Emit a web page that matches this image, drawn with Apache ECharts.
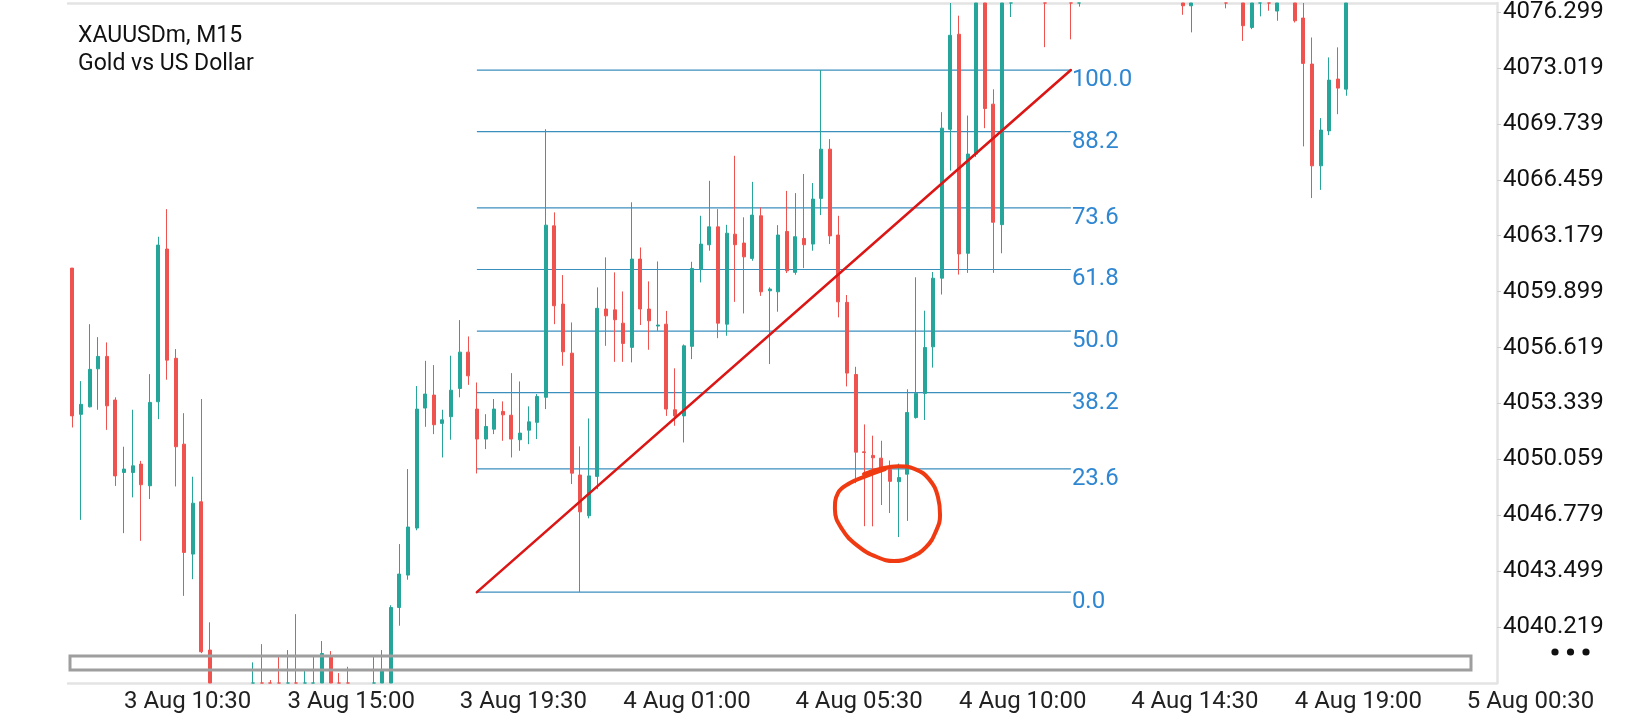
<!DOCTYPE html>
<html>
<head>
<meta charset="utf-8">
<title>XAUUSDm, M15</title>
<script src="https://cdn.jsdelivr.net/npm/echarts@6/dist/echarts.min.js"></script>
<style>
  html, body { margin: 0; padding: 0; background: #fff; }
  #chart { width: 1640px; height: 720px; }
</style>
</head>
<body>
<div id="chart"></div>
<script>
// M15 bars, oldest first. Bars outside the visible price range are rough guesses,
// they only show as wick stubs at the top / bottom edge.
const opens = [
  4061.28, 4052.70, 4053.14, 4055.37, 4056.10, 4053.54, 4049.29, 4049.29, 4049.78, 4048.51,
  4053.44, 4062.40, 4055.99, 4050.95, 4044.50, 4047.57, 4038.87, 4035.50, 4033.00, 4034.00,
  4032.50, 4035.00, 4036.00, 4034.50, 4033.00, 4032.00, 4035.00, 4033.50, 4035.50, 4035.00,
  4038.46, 4035.00, 4033.50, 4032.50, 4034.00, 4035.00, 4036.00, 4036.50, 4041.37, 4043.27,
  4046.03, 4053.07, 4053.83, 4052.17, 4052.56, 4054.22, 4056.35, 4053.01, 4051.25, 4051.83,
  4052.87, 4052.65, 4051.21, 4051.77, 4052.23, 4053.70, 4063.76, 4059.17, 4056.29, 4049.14,
  4046.75, 4049.06, 4058.88, 4058.83, 4058.05, 4056.63, 4061.81, 4058.88, 4057.88, 4057.99,
  4052.97, 4052.61, 4056.69, 4061.22, 4062.65, 4063.70, 4057.99, 4063.27, 4062.75, 4061.85,
  4064.35, 4059.95, 4059.89, 4063.43, 4061.03, 4063.02, 4062.69, 4065.37, 4068.26, 4063.22,
  4059.27, 4055.04, 4050.50, 4050.29, 4050.13, 4049.46, 4048.75, 4049.19, 4052.51, 4053.93,
  4056.66, 4060.69, 4069.42, 4075.00, 4062.15, 4067.97, 4078.50, 4070.90, 4063.83, 4078.00,
  4080.00, 4081.50, 4080.50, 4081.00, 4078.50, 4080.00, 4079.00, 4078.00, 4079.50, 4081.00,
  4082.50, 4081.50, 4083.00, 4082.00, 4083.50, 4082.50, 4081.00, 4080.00, 4079.00, 4077.50,
  4076.67, 4077.80, 4079.00, 4080.00, 4079.50, 4078.00, 4078.50, 4075.40, 4077.30, 4078.50,
  4076.36, 4078.00, 4078.80, 4075.95, 4073.25, 4067.28, 4069.33, 4072.37, 4071.78
];
const highs = [
  4061.28, 4054.65, 4057.99, 4057.23, 4056.92, 4053.70, 4050.80, 4052.97, 4049.97, 4055.06,
  4063.12, 4064.74, 4056.53, 4052.77, 4049.04, 4053.60, 4040.50, 4036.20, 4034.50, 4035.00,
  4036.50, 4038.15, 4039.22, 4037.11, 4038.50, 4038.87, 4040.98, 4037.65, 4038.50, 4039.40,
  4038.81, 4037.52, 4037.89, 4036.00, 4036.50, 4038.50, 4038.87, 4041.50, 4045.09, 4049.49,
  4054.36, 4055.84, 4055.59, 4052.97, 4056.14, 4058.23, 4057.27, 4054.57, 4052.71, 4053.60,
  4053.46, 4055.12, 4054.63, 4053.17, 4053.89, 4069.43, 4064.55, 4060.87, 4058.09, 4050.82,
  4052.46, 4060.15, 4061.91, 4061.03, 4059.91, 4065.14, 4062.49, 4060.50, 4061.67, 4058.77,
  4055.40, 4056.80, 4061.65, 4064.35, 4066.40, 4064.74, 4063.82, 4067.87, 4064.26, 4066.34,
  4064.84, 4060.15, 4063.80, 4065.81, 4065.68, 4066.80, 4066.27, 4072.90, 4068.85, 4064.35,
  4059.70, 4055.49, 4052.11, 4051.45, 4051.15, 4049.99, 4049.81, 4054.17, 4060.74, 4058.78,
  4061.05, 4070.43, 4077.00, 4076.09, 4070.23, 4079.20, 4079.50, 4071.77, 4079.00, 4081.00,
  4082.50, 4083.00, 4082.00, 4082.00, 4081.00, 4081.50, 4080.00, 4080.50, 4082.00, 4083.50,
  4083.50, 4084.00, 4084.00, 4084.50, 4084.50, 4083.00, 4082.00, 4081.00, 4080.00, 4078.50,
  4079.00, 4080.00, 4081.00, 4081.00, 4080.00, 4079.50, 4079.00, 4079.00, 4079.50, 4079.50,
  4079.00, 4079.50, 4079.50, 4078.00, 4074.81, 4070.08, 4073.64, 4074.23, 4078.00
];
const lows = [
  4051.93, 4046.51, 4053.11, 4052.97, 4051.79, 4048.50, 4045.73, 4047.83, 4045.28, 4047.73,
  4052.42, 4054.73, 4048.47, 4042.05, 4043.03, 4038.69, 4034.80, 4032.00, 4031.00, 4031.50,
  4032.00, 4034.00, 4033.50, 4032.00, 4031.00, 4031.50, 4032.50, 4033.00, 4034.50, 4033.50,
  4034.00, 4032.50, 4031.50, 4031.00, 4033.00, 4034.50, 4035.50, 4036.00, 4040.30, 4043.00,
  4045.90, 4051.97, 4051.54, 4050.17, 4051.21, 4053.70, 4054.43, 4049.23, 4050.66, 4051.54,
  4051.15, 4050.17, 4050.56, 4050.95, 4051.25, 4053.01, 4057.99, 4055.55, 4048.61, 4042.27,
  4046.60, 4048.31, 4056.72, 4055.78, 4055.78, 4055.75, 4057.94, 4056.49, 4057.60, 4052.61,
  4052.03, 4051.05, 4055.94, 4060.44, 4062.30, 4057.17, 4057.31, 4059.30, 4058.62, 4061.71,
  4059.65, 4055.65, 4058.72, 4060.99, 4060.89, 4061.28, 4062.30, 4064.39, 4062.69, 4058.39,
  4054.34, 4048.66, 4046.14, 4046.13, 4047.38, 4046.91, 4045.50, 4046.45, 4052.45, 4052.37,
  4055.44, 4059.73, 4067.00, 4060.90, 4061.00, 4067.80, 4069.49, 4061.00, 4062.15, 4076.01,
  4079.00, 4079.50, 4079.00, 4074.24, 4077.50, 4077.80, 4074.70, 4076.62, 4078.50, 4080.00,
  4080.50, 4080.50, 4081.00, 4081.00, 4081.50, 4080.00, 4079.00, 4078.00, 4077.50, 4076.14,
  4075.11, 4077.20, 4078.00, 4078.50, 4076.52, 4077.20, 4074.61, 4075.30, 4076.05, 4076.38,
  4075.79, 4077.20, 4075.69, 4068.42, 4065.39, 4065.87, 4069.08, 4070.31, 4071.39
];
const closes = [
  4052.61, 4053.29, 4055.34, 4056.10, 4053.20, 4049.09, 4049.49, 4049.68, 4048.57, 4053.40,
  4062.63, 4055.88, 4050.80, 4044.60, 4047.49, 4038.77, 4035.50, 4033.00, 4034.00, 4032.50,
  4035.00, 4036.00, 4034.50, 4033.00, 4032.00, 4035.00, 4033.50, 4035.50, 4036.50, 4038.67,
  4035.00, 4033.50, 4032.50, 4034.00, 4035.00, 4036.00, 4037.65, 4041.37, 4043.33, 4046.09,
  4053.01, 4053.89, 4052.09, 4052.38, 4054.12, 4056.35, 4054.96, 4051.25, 4051.99, 4053.01,
  4052.67, 4051.25, 4051.60, 4052.26, 4053.75, 4063.80, 4059.07, 4056.37, 4049.25, 4046.98,
  4049.09, 4058.92, 4058.48, 4058.25, 4056.86, 4061.81, 4058.88, 4058.19, 4057.94, 4053.01,
  4052.61, 4056.72, 4061.26, 4062.69, 4063.70, 4058.05, 4063.33, 4062.65, 4061.94, 4064.39,
  4059.89, 4060.05, 4063.22, 4061.12, 4063.12, 4062.65, 4065.33, 4068.26, 4063.17, 4059.30,
  4055.12, 4050.48, 4050.46, 4050.15, 4049.49, 4048.77, 4048.99, 4052.81, 4053.93, 4056.62,
  4060.69, 4069.49, 4074.94, 4062.11, 4067.97, 4078.50, 4070.64, 4063.97, 4078.20, 4080.00,
  4081.50, 4080.50, 4081.00, 4078.50, 4080.00, 4079.00, 4078.00, 4079.50, 4081.00, 4082.50,
  4081.50, 4083.00, 4082.00, 4083.50, 4082.50, 4081.00, 4080.00, 4079.00, 4078.50, 4076.67,
  4077.80, 4079.00, 4080.00, 4079.50, 4078.00, 4078.50, 4075.50, 4078.00, 4078.50, 4077.30,
  4078.00, 4078.80, 4075.79, 4073.29, 4067.28, 4069.38, 4072.31, 4071.84, 4077.50
];

// bar slots across the plot (the right part is empty future space)
const slotCount = 166;

// time scale labels and the bar each one sits on
const timeLabels = ['3 Aug 10:30', '3 Aug 15:00', '3 Aug 19:30', '4 Aug 01:00', '4 Aug 05:30',
  '4 Aug 10:00', '4 Aug 14:30', '4 Aug 19:00', '5 Aug 00:30'];
const timeLabelBars = [6, 25, 45, 64, 84, 103, 123, 142, 162];

// price scale
const priceMin = 4036.939;
const priceMax = 4076.833;
const priceStep = 3.28;

// fibonacci retracement, anchored from the swing low to the swing high
const fibLow = { bar: 47, price: 4042.27 };
const fibHigh = { bar: 116, price: 4072.90 };
const fibLevels = [0, 23.6, 38.2, 50, 61.8, 73.6, 88.2, 100];

// hand drawn ring around the lows, as [bar, price]
const ringPath = [
  [91.97, 4049.19], [93.83, 4049.49], [95.92, 4049.66], [97.89, 4049.49], [99.52, 4048.90],
  [100.56, 4047.85], [100.80, 4046.79], [100.33, 4045.85], [99.17, 4044.91], [97.43, 4044.33],
  [95.46, 4044.09], [93.48, 4044.33], [91.27, 4044.97], [89.41, 4045.97], [88.59, 4047.14],
  [88.94, 4048.08], [90.34, 4048.67], [92.20, 4049.08], [94.41, 4049.49]
];

const FONT = 'Roboto';
const BULL = '#26a69a';
const BEAR = '#ef5350';
const FRAME = '#e3e3e3';

const categories = [];
for (let i = 0; i < slotCount; i++) {
  const k = timeLabelBars.indexOf(i);
  categories.push(k >= 0 ? timeLabels[k] : '');
}

// the candlestick series does not cut bars at the plot edge, so cut them here
const clampPrice = v => Math.min(priceMax, Math.max(priceMin, v));
const candles = opens.map((o, i) => {
  if (highs[i] < priceMin || lows[i] > priceMax) return '-';
  const col = closes[i] >= o ? BULL : BEAR;
  return {
    value: [clampPrice(o), clampPrice(closes[i]), clampPrice(lows[i]), clampPrice(highs[i])],
    itemStyle: {
      color: col, color0: col,
      borderColor: col, borderColor0: col, borderColorDoji: col
    }
  };
});

const series = [];

for (const level of fibLevels) {
  const price = fibLow.price + (fibHigh.price - fibLow.price) * level / 100;
  series.push({
    type: 'line',
    xAxisIndex: 1,
    z: 2,
    symbol: 'none',
    silent: true,
    data: [[fibLow.bar, price], [fibHigh.bar, price]],
    lineStyle: { color: '#3b8fbd', width: 1.2 },
    endLabel: {
      show: true,
      formatter: level.toFixed(1),
      color: '#2f87d2',
      fontFamily: FONT,
      fontSize: 24,
      distance: 1,
      offset: [0, 10]
    }
  });
}

series.push({
  type: 'candlestick',
  xAxisIndex: 0,
  z: 3,
  barWidth: 3.5,
  data: candles,
  itemStyle: {
    color: BULL,
    color0: BEAR,
    borderColor: BULL,
    borderColor0: BEAR,
    borderWidth: 1
  }
});

// trend line of the retracement
series.push({
  type: 'line',
  xAxisIndex: 1,
  z: 4,
  symbol: 'none',
  silent: true,
  data: [[fibLow.bar, fibLow.price], [fibHigh.bar, fibHigh.price]],
  lineStyle: { color: '#dc1515', width: 2.6, cap: 'round' }
});

series.push({
  type: 'line',
  xAxisIndex: 1,
  z: 5,
  symbol: 'none',
  silent: true,
  smooth: 0.45,
  data: ringPath,
  lineStyle: { color: '#f03a12', width: 4, cap: 'round', join: 'round' }
});

const chart = echarts.init(document.getElementById('chart'));
chart.setOption({
  animation: false,
  backgroundColor: '#ffffff',
  title: {
    text: 'XAUUSDm, M15\nGold vs US Dollar',
    left: 73,
    top: 17,
    textStyle: {
      fontFamily: FONT,
      fontSize: 23,
      fontWeight: 'normal',
      color: '#111',
      lineHeight: 28
    }
  },
  grid: { left: 68, right: 143, top: 3, bottom: 37 },
  xAxis: [
    {
      type: 'category',
      data: categories,
      boundaryGap: true,
      position: 'bottom',
      axisLine: { onZero: false, lineStyle: { color: FRAME, width: 2.5 } },
      axisTick: {
        alignWithLabel: true,
        length: 5,
        interval: (i, v) => v !== '',
        lineStyle: { color: FRAME, width: 1.5 }
      },
      axisLabel: {
        interval: (i, v) => v !== '',
        align: 'left',
        margin: 7,
        fontFamily: FONT,
        fontSize: 24,
        color: '#222'
      },
      splitLine: { show: false }
    },
    {
      // hidden value twin of the bar axis, carries the drawn objects; its line is the top frame
      type: 'value',
      min: -0.5,
      max: slotCount - 0.5,
      position: 'top',
      axisLine: { show: true, onZero: false, lineStyle: { color: FRAME, width: 2.5 } },
      axisTick: { show: false },
      axisLabel: { show: false },
      splitLine: { show: false }
    }
  ],
  yAxis: {
    type: 'value',
    position: 'right',
    min: priceMin,
    max: priceMax,
    interval: priceStep,
    scale: true,
    axisLine: { show: true, onZero: false, lineStyle: { color: FRAME, width: 2.5 } },
    axisTick: { show: true, length: 4, lineStyle: { color: '#cfcfcf' } },
    axisLabel: {
      showMinLabel: false,
      showMaxLabel: false,
      margin: 6,
      padding: [7, 0, 0, 0],
      fontFamily: FONT,
      fontSize: 24,
      color: '#111',
      formatter: v => v.toFixed(3)
    },
    splitLine: { show: false }
  },
  graphic: [
    {
      type: 'rect',
      z: 100,
      silent: true,
      shape: { x: 70, y: 656, width: 1401, height: 14 },
      style: { fill: 'none', stroke: '#9e9e9e', lineWidth: 3 }
    },
    { type: 'circle', z: 100, shape: { cx: 1555, cy: 652, r: 3.6 }, style: { fill: '#111' } },
    { type: 'circle', z: 100, shape: { cx: 1570.5, cy: 652, r: 3.6 }, style: { fill: '#111' } },
    { type: 'circle', z: 100, shape: { cx: 1586, cy: 652, r: 3.6 }, style: { fill: '#111' } }
  ],
  series: series
});
</script>
</body>
</html>
